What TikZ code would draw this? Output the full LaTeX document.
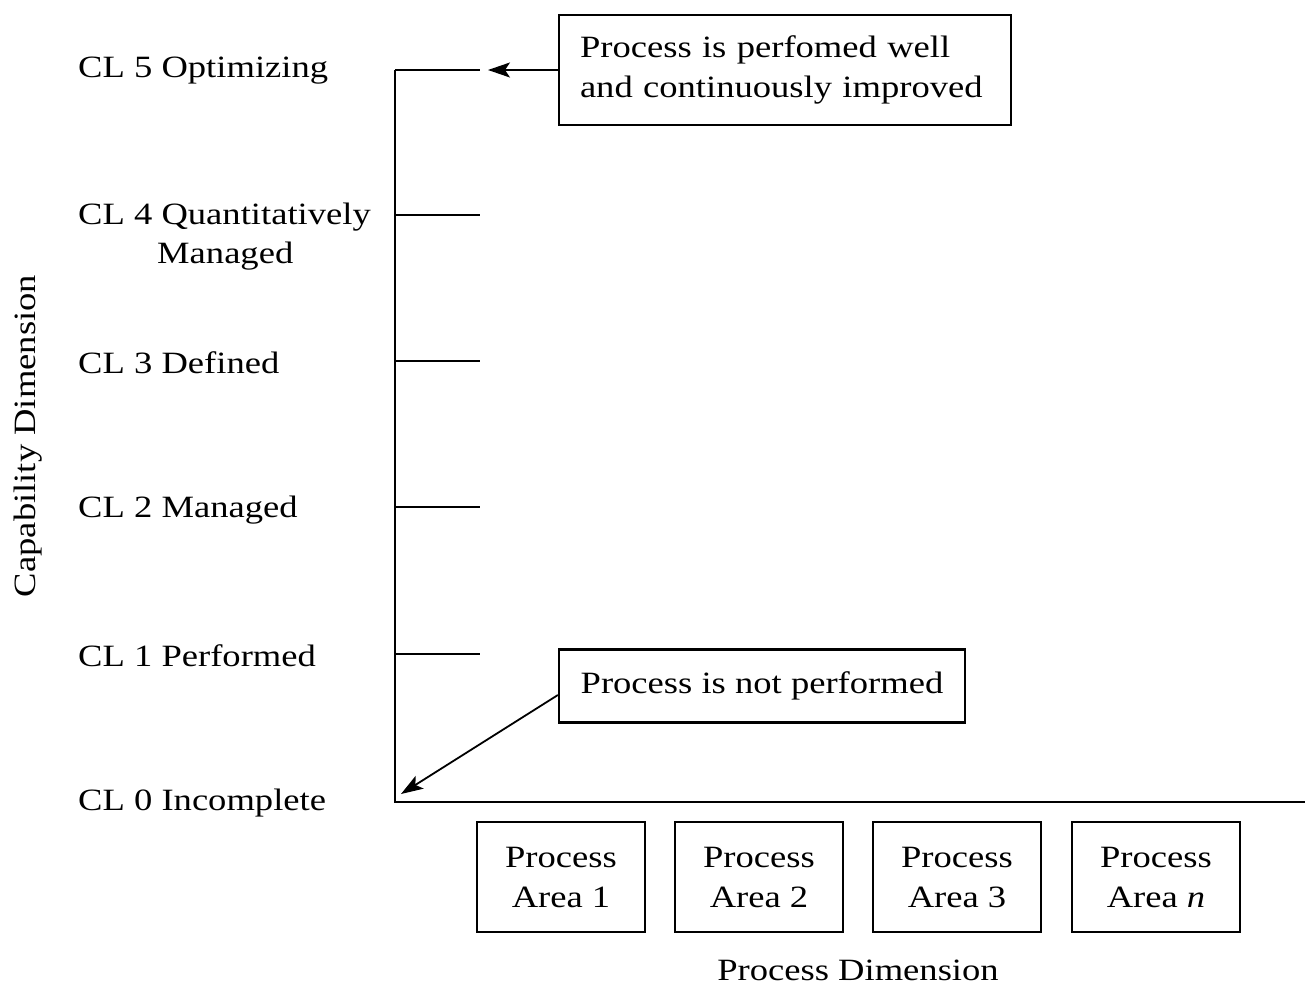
\documentclass[tikz,border=0pt]{standalone}
\usepackage{fontspec}
\setmainfont{Liberation Serif}[FakeStretch=1.18]
\usetikzlibrary{arrows.meta}
\begin{document}
\begin{tikzpicture}[x=1pt,y=-1pt,
  txt/.style={font=\fontsize{31}{40}\selectfont, inner sep=0pt},
  lbl/.style={txt, anchor=west, align=left},
  boxed/.style={draw, line width=2.2pt, txt},
  axis/.style={line width=2.6pt},
  tick/.style={line width=2pt},
  ptr/.style={line width=1.8pt, -{Stealth[length=22pt,width=15pt,inset=5pt]}}]
\useasboundingbox (0,0) rectangle (1306,988);

% axes
\coordinate (top) at (395,70);
\coordinate (origin) at (395,802);
\coordinate (xend) at (1305,802);
\draw[axis] (top) -- (origin) -- (xend);

% capability level ticks
\foreach \n/\y in {5/70,4/215,3/361,2/507,1/654}
  \coordinate (t\n) at (480,\y);
\draw[tick] (top) -- (t5);
\foreach \n/\y in {4/215,3/361,2/507,1/654}
  \draw[tick] (395,\y) -- (t\n);

% level labels
\node[lbl] (cl5) at (78,71) {CL 5 Optimizing};
\node[lbl] (cl4) at (78,217) {CL 4 Quantitatively};
\node[lbl] (cl4b) at (157,256) {Managed};
\node[lbl] (cl3) at (78,363) {CL 3 Defined};
\node[lbl] (cl2) at (78,510) {CL 2 Managed};
\node[lbl] (cl1) at (78,656) {CL 1 Performed};
\node[lbl] (cl0) at (78,803) {CL 0 Incomplete};

% axis titles
\node[txt, rotate=90] (capdim) at (28,436) {Capability Dimension};
\node[txt] (procdim) at (858,970) {Process Dimension};

% callouts
\node[boxed, align=left, text width=410pt, minimum width=452pt, minimum height=110pt] (well) at (785,70)
  {Process is perfomed well\\and continuously improved};
\node[boxed, align=center, minimum width=406pt, minimum height=73pt] (notp) at (762,686)
  {Process is not performed};
\coordinate (tip5) at (488,70);
\coordinate (tip0) at (401,794);
\draw[ptr] (well.west) -- (tip5);
\draw[ptr] ([yshift=-9pt]notp.west) -- (tip0);

% process areas
\foreach \i/\x/\t in {1/561/1,2/759/2,3/957/3,4/1156/\textit{n}}
  \node[boxed, align=center, minimum width=168pt, minimum height=110pt] (pa\i) at (\x,877)
    {Process\\Area \t};
\end{tikzpicture}
\end{document}
